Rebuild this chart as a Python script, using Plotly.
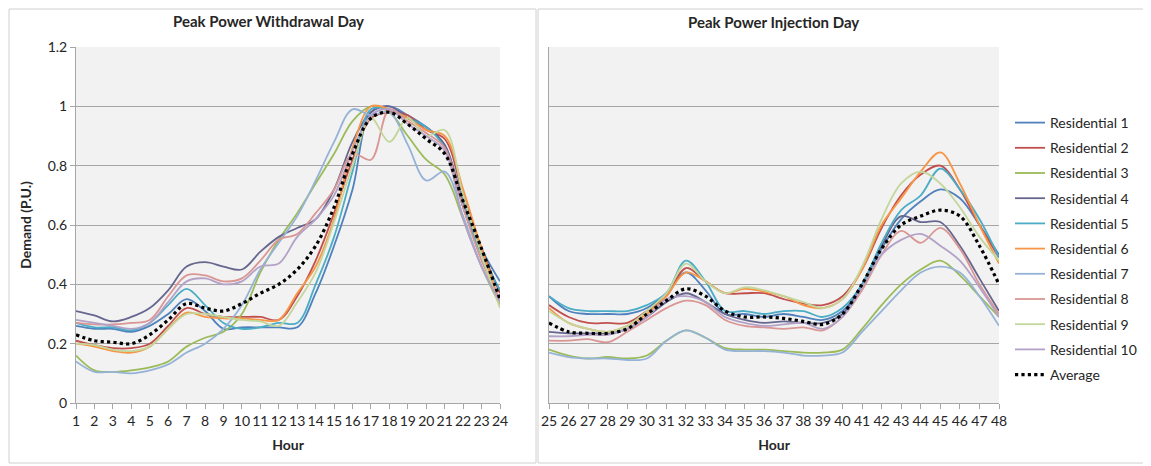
import plotly.graph_objects as go

W, H = 1151, 466

hours_left = list(range(1, 25))
hours_right = list(range(25, 49))
tick_left = [str(h) for h in hours_left]
tick_right = [str(h) for h in hours_right]

names = ["Residential 1", "Residential 2", "Residential 3", "Residential 4", "Residential 5",
         "Residential 6", "Residential 7", "Residential 8", "Residential 9", "Residential 10"]
colors = ["#4F81BD", "#C0504D", "#9BBB59", "#66668F", "#4BACC6",
          "#F79646", "#95B3D7", "#D99694", "#C3D69B", "#B3A2C7"]

# Peak Power Withdrawal Day (hours 1-24)
r1_w = [0.26, 0.25, 0.25, 0.24, 0.26, 0.30, 0.35, 0.31, 0.25, 0.255, 0.255, 0.255, 0.255, 0.37, 0.53, 0.72, 0.98, 1.00, 0.97, 0.93, 0.87, 0.68, 0.52, 0.41]
r2_w = [0.21, 0.195, 0.185, 0.185, 0.20, 0.26, 0.32, 0.30, 0.29, 0.29, 0.29, 0.28, 0.36, 0.48, 0.64, 0.82, 0.96, 0.98, 0.97, 0.92, 0.89, 0.70, 0.52, 0.37]
r3_w = [0.16, 0.11, 0.105, 0.11, 0.12, 0.14, 0.19, 0.22, 0.24, 0.30, 0.44, 0.55, 0.64, 0.74, 0.84, 0.95, 1.00, 0.98, 0.90, 0.82, 0.77, 0.62, 0.46, 0.33]
r4_w = [0.31, 0.295, 0.275, 0.29, 0.32, 0.38, 0.46, 0.475, 0.46, 0.45, 0.51, 0.56, 0.59, 0.62, 0.72, 0.88, 0.98, 1.00, 0.96, 0.93, 0.87, 0.66, 0.50, 0.38]
r5_w = [0.27, 0.255, 0.255, 0.245, 0.27, 0.33, 0.385, 0.33, 0.27, 0.25, 0.255, 0.27, 0.27, 0.40, 0.56, 0.78, 0.99, 0.99, 0.96, 0.93, 0.86, 0.66, 0.50, 0.38]
r6_w = [0.20, 0.19, 0.175, 0.17, 0.19, 0.25, 0.305, 0.29, 0.285, 0.285, 0.28, 0.28, 0.37, 0.46, 0.62, 0.86, 1.00, 0.99, 0.96, 0.92, 0.90, 0.72, 0.52, 0.34]
r7_w = [0.14, 0.105, 0.105, 0.10, 0.11, 0.13, 0.17, 0.20, 0.25, 0.33, 0.45, 0.54, 0.63, 0.75, 0.88, 0.99, 0.97, 0.98, 0.87, 0.75, 0.78, 0.63, 0.46, 0.35]
r8_w = [0.27, 0.265, 0.265, 0.27, 0.28, 0.36, 0.43, 0.43, 0.41, 0.42, 0.48, 0.55, 0.57, 0.64, 0.72, 0.84, 0.82, 0.99, 0.95, 0.91, 0.86, 0.66, 0.48, 0.35]
r9_w = [0.20, 0.195, 0.18, 0.175, 0.19, 0.25, 0.30, 0.30, 0.29, 0.28, 0.275, 0.26, 0.34, 0.44, 0.61, 0.80, 0.96, 0.88, 0.96, 0.90, 0.92, 0.70, 0.50, 0.32]
r10_w = [0.28, 0.27, 0.26, 0.25, 0.27, 0.34, 0.41, 0.42, 0.40, 0.41, 0.46, 0.47, 0.56, 0.62, 0.70, 0.85, 0.97, 0.99, 0.94, 0.90, 0.85, 0.62, 0.46, 0.34]
avg_w = [0.23, 0.21, 0.205, 0.20, 0.23, 0.28, 0.335, 0.32, 0.31, 0.335, 0.37, 0.40, 0.45, 0.53, 0.66, 0.84, 0.96, 0.98, 0.94, 0.89, 0.84, 0.68, 0.52, 0.35]

# Peak Power Injection Day (hours 25-48)
r1_i = [0.36, 0.31, 0.30, 0.30, 0.30, 0.32, 0.37, 0.44, 0.38, 0.30, 0.30, 0.29, 0.30, 0.29, 0.28, 0.31, 0.39, 0.52, 0.62, 0.68, 0.72, 0.69, 0.60, 0.50]
r2_i = [0.33, 0.29, 0.27, 0.27, 0.27, 0.31, 0.36, 0.455, 0.41, 0.37, 0.37, 0.37, 0.35, 0.335, 0.33, 0.36, 0.45, 0.59, 0.70, 0.77, 0.80, 0.72, 0.60, 0.49]
r3_i = [0.18, 0.16, 0.15, 0.155, 0.15, 0.16, 0.21, 0.245, 0.22, 0.185, 0.18, 0.18, 0.175, 0.17, 0.17, 0.18, 0.25, 0.33, 0.40, 0.45, 0.48, 0.43, 0.36, 0.29]
r4_i = [0.24, 0.235, 0.235, 0.235, 0.25, 0.29, 0.34, 0.37, 0.34, 0.30, 0.28, 0.27, 0.275, 0.27, 0.27, 0.30, 0.40, 0.53, 0.63, 0.61, 0.61, 0.53, 0.42, 0.31]
r5_i = [0.36, 0.32, 0.31, 0.31, 0.31, 0.33, 0.37, 0.48, 0.41, 0.31, 0.31, 0.30, 0.31, 0.31, 0.29, 0.32, 0.40, 0.54, 0.65, 0.70, 0.79, 0.72, 0.62, 0.49]
r6_i = [0.32, 0.27, 0.25, 0.24, 0.26, 0.30, 0.36, 0.44, 0.41, 0.37, 0.385, 0.375, 0.36, 0.33, 0.32, 0.35, 0.45, 0.60, 0.69, 0.78, 0.845, 0.74, 0.60, 0.47]
r7_i = [0.17, 0.155, 0.15, 0.15, 0.145, 0.15, 0.21, 0.245, 0.22, 0.18, 0.175, 0.175, 0.17, 0.16, 0.16, 0.17, 0.24, 0.31, 0.38, 0.44, 0.46, 0.44, 0.36, 0.26]
r8_i = [0.21, 0.21, 0.215, 0.205, 0.24, 0.28, 0.32, 0.345, 0.33, 0.28, 0.26, 0.255, 0.25, 0.255, 0.245, 0.29, 0.38, 0.50, 0.58, 0.54, 0.59, 0.52, 0.40, 0.30]
r9_i = [0.31, 0.27, 0.25, 0.24, 0.26, 0.31, 0.37, 0.47, 0.41, 0.37, 0.39, 0.38, 0.36, 0.34, 0.32, 0.35, 0.46, 0.62, 0.74, 0.78, 0.74, 0.66, 0.56, 0.48]
r10_i = [0.225, 0.225, 0.23, 0.23, 0.25, 0.29, 0.35, 0.36, 0.34, 0.29, 0.27, 0.26, 0.265, 0.27, 0.25, 0.29, 0.39, 0.50, 0.55, 0.57, 0.53, 0.48, 0.39, 0.29]
avg_i = [0.27, 0.24, 0.235, 0.235, 0.25, 0.30, 0.345, 0.385, 0.36, 0.31, 0.29, 0.29, 0.285, 0.275, 0.265, 0.30, 0.40, 0.52, 0.60, 0.63, 0.65, 0.63, 0.53, 0.40]

left_series = [r1_w, r2_w, r3_w, r4_w, r5_w, r6_w, r7_w, r8_w, r9_w, r10_w]
right_series = [r1_i, r2_i, r3_i, r4_i, r5_i, r6_i, r7_i, r8_i, r9_i, r10_i]

FONT = "Lato, 'Open Sans', sans-serif"
TXT = "#262626"

fig = go.Figure()
for i, name in enumerate(names):
    fig.add_trace(go.Scatter(x=hours_left, y=left_series[i], mode="lines", name=name,
                             legendgroup=name, showlegend=True,
                             line=dict(color=colors[i], width=1.8, shape="spline", smoothing=1.0),
                             xaxis="x", yaxis="y"))
    fig.add_trace(go.Scatter(x=hours_right, y=right_series[i], mode="lines", name=name,
                             legendgroup=name, showlegend=False,
                             line=dict(color=colors[i], width=1.8, shape="spline", smoothing=1.0),
                             xaxis="x2", yaxis="y2"))
fig.add_trace(go.Scatter(x=hours_left, y=avg_w, mode="lines", name="Average", legendgroup="Average",
                         line=dict(color="black", width=3.2, dash="dot", shape="spline", smoothing=1.0),
                         xaxis="x", yaxis="y"))
fig.add_trace(go.Scatter(x=hours_right, y=avg_i, mode="lines", name="Average", legendgroup="Average",
                         showlegend=False,
                         line=dict(color="black", width=3.2, dash="dot", shape="spline", smoothing=1.0),
                         xaxis="x2", yaxis="y2"))

OFF = 8  # page body margin

def px_x(p):
    return (p - OFF) / W

def px_y(p):
    return 1 - (p - OFF) / H

axis_common = dict(showgrid=False, zeroline=False, showline=True, linecolor="#A6A6A6", linewidth=1,
                   ticks="outside", ticklen=5, tickcolor="#A6A6A6", tickangle=0, automargin=False,
                   tickfont=dict(family=FONT, size=14, color=TXT))

fig.update_layout(
    width=W, height=H,
    margin=dict(l=0, r=0, t=0, b=0, autoexpand=False),
    paper_bgcolor="white",
    plot_bgcolor="#F2F2F2",
    showlegend=True,
    legend=dict(x=px_x(1010), y=px_y(107), xanchor="left", yanchor="top",
                font=dict(family=FONT, size=14, color=TXT), itemwidth=30,
                tracegroupgap=4, traceorder="grouped", bgcolor="rgba(0,0,0,0)"),
    xaxis=dict(domain=[px_x(76), px_x(500)], range=[1, 24], tickmode="array", tickvals=hours_left,
               ticktext=tick_left, anchor="y",
               title=dict(text="<b>Hour</b>", font=dict(family=FONT, size=14, color=TXT), standoff=12),
               **axis_common),
    yaxis=dict(domain=[px_y(403), px_y(47)], range=[0, 1.2], tickvals=[0, 0.2, 0.4, 0.6, 0.8, 1, 1.2],
               ticktext=["0", "0.2", "0.4", "0.6", "0.8", "1", "1.2"], anchor="x", automargin=False,
               showgrid=True, gridcolor="#A6A6A6", gridwidth=1, zeroline=False, showline=True,
               linecolor="#A6A6A6", ticks="outside", ticklen=5, tickcolor="#A6A6A6",
               tickfont=dict(family=FONT, size=14, color=TXT),
               title=dict(text="<b>Demand (P.U.)</b>", font=dict(family=FONT, size=14, color=TXT), standoff=12)),
    xaxis2=dict(domain=[px_x(549), px_x(999)], range=[25, 48], tickmode="array", tickvals=hours_right,
                ticktext=tick_right, anchor="y2",
                title=dict(text="<b>Hour</b>", font=dict(family=FONT, size=14, color=TXT), standoff=12),
                **axis_common),
    yaxis2=dict(domain=[px_y(403), px_y(47)], range=[0, 1.2], tickvals=[0, 0.2, 0.4, 0.6, 0.8, 1, 1.2],
                anchor="x2", showticklabels=False, showgrid=True, gridcolor="#A6A6A6", gridwidth=1,
                zeroline=False, showline=True, linecolor="#A6A6A6", ticks="", automargin=False),
    annotations=[
        dict(text="<b>Peak Power Withdrawal Day</b>", x=px_x(268), y=px_y(21), xref="paper", yref="paper",
             showarrow=False, font=dict(family=FONT, size=15, color=TXT), xanchor="center", yanchor="middle"),
        dict(text="<b>Peak Power Injection Day</b>", x=px_x(773), y=px_y(22), xref="paper", yref="paper",
             showarrow=False, font=dict(family=FONT, size=15, color=TXT), xanchor="center", yanchor="middle"),
    ],
    shapes=[
        dict(type="rect", xref="paper", yref="paper", x0=px_x(9), x1=px_x(536), y0=px_y(463), y1=px_y(9),
             line=dict(color="#D0D0D0", width=1), fillcolor="rgba(0,0,0,0)", layer="below"),
        dict(type="rect", xref="paper", yref="paper", x0=px_x(538), x1=px_x(1150), y0=px_y(463), y1=px_y(9),
             line=dict(color="#D0D0D0", width=1), fillcolor="rgba(0,0,0,0)", layer="below"),
    ],
)

fig.write_html("out.html")
